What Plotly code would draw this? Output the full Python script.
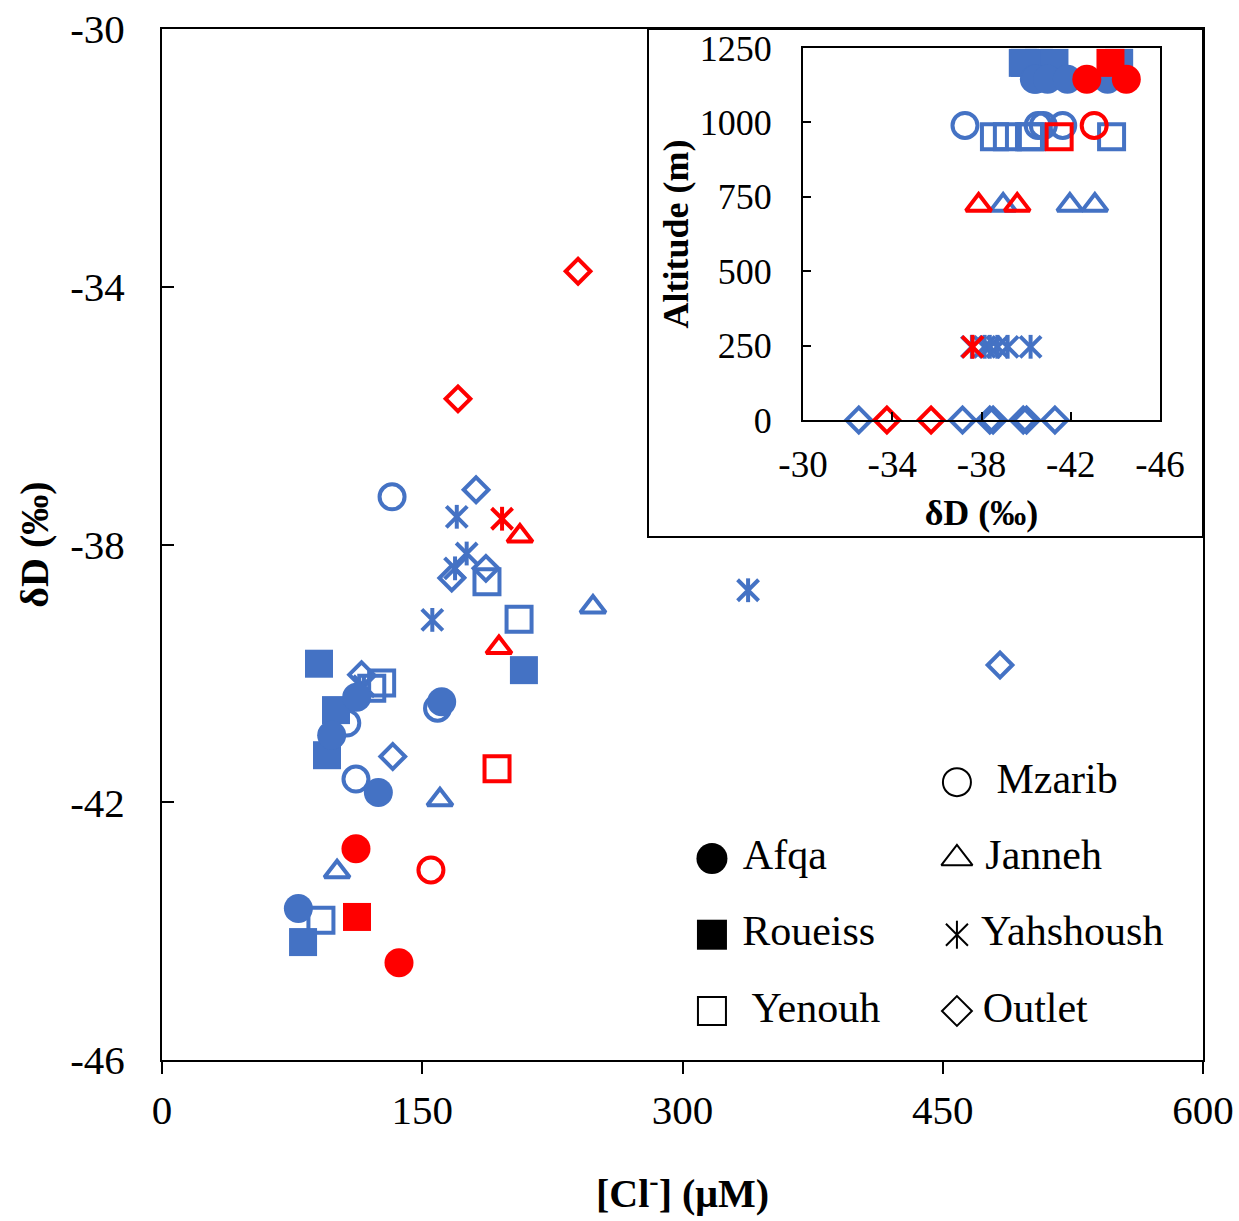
import plotly.graph_objects as go

BLUE = "#4472C4"
RED = "#FF0000"
FONT = "Liberation Serif"

# ---------------- data ----------------
# [Cl-] (µM) and dD (permil) per spring; blue and red sample sets
afqa_blue_cl = [112.2, 161.2, 97.8, 124.7, 78.6]
afqa_blue_dD = [-40.37, -40.44, -40.96, -41.85, -43.65]
afqa_red_cl = [111.8, 136.6]
afqa_red_dD = [-42.72, -44.49]

roueiss_blue_cl = [90.5, 100.3, 95.1, 208.6, 81.3]
roueiss_blue_dD = [-39.85, -40.57, -41.27, -39.95, -44.17]
roueiss_red_cl = [112.4]
roueiss_red_dD = [-43.78]

yenouh_blue_cl = [187.3, 205.8, 126.6, 120.9, 91.6]
yenouh_blue_dD = [-38.58, -39.16, -40.15, -40.23, -43.83]
yenouh_red_cl = [193.1]
yenouh_red_dD = [-41.48]

mzarib_blue_cl = [132.6, 106.5, 158.8, 111.8]
mzarib_blue_dD = [-37.26, -40.77, -40.54, -41.64]
mzarib_red_cl = [155.0]
mzarib_red_dD = [-43.05]

janneh_blue_cl = [248.4, 160.2, 100.9]
janneh_blue_dD = [-38.97, -41.96, -43.08]
janneh_red_cl = [206.3, 194.2]
janneh_red_dD = [-37.87, -39.60]

yahshoush_blue_cl = [169.9, 175.6, 168.9, 155.8, 337.8, 116.4]
yahshoush_blue_dD = [-37.57, -38.14, -38.37, -39.17, -38.71, -40.20]
yahshoush_red_cl = [196.0]
yahshoush_red_dD = [-37.60]

outlet_blue_cl = [181.0, 167.0, 186.7, 133.0, 115.0, 483.0, None]
outlet_blue_dD = [-37.15, -38.52, -38.37, -41.29, -40.02, -39.87, -32.50]
outlet_red_cl = [239.8, 170.6]
outlet_red_dD = [-33.76, -35.74]

# altitude (m) of each spring (inset)
site_altitude = {"Roueiss": 1200, "Afqa": 1145, "Mzarib": 990, "Yenouh": 952,
                 "Janneh": 722, "Yahshoush": 246, "Outlet": 0}

# legend layout (two columns, four rows)
legend_sites = ["Mzarib", "Afqa", "Janneh", "Roueiss", "Yahshoush", "Yenouh", "Outlet"]
legend_cols = ["right", "left", "right", "left", "right", "left", "right"]
legend_rows = ["r1", "r2", "r2", "r3", "r3", "r4", "r4"]
legend_pad = {"Mzarib": 2, "Afqa": 1, "Janneh": 1, "Roueiss": 1, "Yahshoush": 1,
              "Yenouh": 2, "Outlet": 1}

x_ticks = [0, 150, 300, 450, 600]
y_ticks = [-46, -42, -38, -34, -30]
inset_x_ticks = [-30, -34, -38, -42, -46]
inset_y_ticks = [0, 250, 500, 750, 1000, 1250]

# ---------------- styles ----------------
# each site: list of (symbol, size, line width) layers
styles = {
    "Afqa": [("circle", 29, 0)],
    "Roueiss": [("square", 28, 0)],
    "Yenouh": [("square-open", 25, 4)],
    "Mzarib": [("circle-open", 25, 4)],
    "Janneh": [("triangle-up-open", 22, 4)],
    "Yahshoush": [("x-thin-open", 21, 4), ("line-ns-open", 17, 4)],
    "Outlet": [("diamond-open", 19, 4)],
}
legend_styles = {
    "Afqa": [("circle", 31, 0)],
    "Roueiss": [("square", 30, 0)],
    "Yenouh": [("square-open", 28, 2)],
    "Mzarib": [("circle-open", 28, 2)],
    "Janneh": [("triangle-up-open", 27, 2)],
    "Yahshoush": [("x-thin-open", 22, 2), ("line-ns-open", 20, 2)],
    "Outlet": [("diamond-open", 23, 2)],
}

series = {
    "Afqa": {"blue": (afqa_blue_cl, afqa_blue_dD), "red": (afqa_red_cl, afqa_red_dD)},
    "Roueiss": {"blue": (roueiss_blue_cl, roueiss_blue_dD), "red": (roueiss_red_cl, roueiss_red_dD)},
    "Yenouh": {"blue": (yenouh_blue_cl, yenouh_blue_dD), "red": (yenouh_red_cl, yenouh_red_dD)},
    "Mzarib": {"blue": (mzarib_blue_cl, mzarib_blue_dD), "red": (mzarib_red_cl, mzarib_red_dD)},
    "Janneh": {"blue": (janneh_blue_cl, janneh_blue_dD), "red": (janneh_red_cl, janneh_red_dD)},
    "Yahshoush": {"blue": (yahshoush_blue_cl, yahshoush_blue_dD), "red": (yahshoush_red_cl, yahshoush_red_dD)},
    "Outlet": {"blue": (outlet_blue_cl, outlet_blue_dD), "red": (outlet_red_cl, outlet_red_dD)},
}
colors = {"blue": BLUE, "red": RED}


def marker(symbol, size, lw, color):
    filled = not symbol.endswith("-open")
    return dict(symbol=symbol, size=size, color=color,
                line=dict(width=lw, color=color) if not filled else dict(width=0))


fig = go.Figure()

for colname in ["blue", "red"]:
    for site in ["Outlet", "Yahshoush", "Janneh", "Mzarib", "Yenouh", "Roueiss", "Afqa"]:
        cl, dD = series[site][colname]
        for sym, size, lw in styles[site]:
            # main chart: dD vs [Cl-]
            fig.add_trace(go.Scatter(
                x=cl, y=dD, mode="markers", name=f"{site} ({colname})",
                marker=marker(sym, size, lw, colors[colname]),
                showlegend=False, xaxis="x", yaxis="y"))
            # inset: altitude vs dD
            fig.add_trace(go.Scatter(
                x=dD, y=[site_altitude[site]] * len(dD), mode="markers",
                name=f"{site} ({colname})",
                marker=marker(sym, size, lw, colors[colname]),
                showlegend=False, cliponaxis=False, xaxis="x2", yaxis="y2"))

# legend drawn on its own hidden categorical axes
for site, col, row in zip(legend_sites, legend_cols, legend_rows):
    layers = legend_styles[site]
    for i, (sym, size, lw) in enumerate(layers):
        last = i == len(layers) - 1
        tr = dict(x=[col], y=[row], marker=marker(sym, size, lw, "black"),
                  showlegend=False, cliponaxis=False, hoverinfo="skip",
                  xaxis="x3", yaxis="y3")
        if last:
            tr.update(mode="markers+text",
                      text=["\u00a0" * legend_pad[site] + site],
                      textposition="middle right",
                      textfont=dict(family=FONT, size=42, color="black"))
        else:
            tr.update(mode="markers")
        fig.add_trace(go.Scatter(**tr))

# plot-area geometry (pixels) -> paper fractions
PL, PR, PT, PB = 162, 1203, 29, 1060
W, H = PR - PL, PB - PT


def px_x(p):
    return (p - PL) / W


def px_y(p):
    return (PB - p) / H


axis_common = dict(showline=True, linecolor="black", linewidth=2, mirror=True,
                   showgrid=False, zeroline=False, tickcolor="black", tickwidth=2)

fig.update_layout(
    width=1239, height=1221,
    margin=dict(l=PL, r=1239 - PR, t=PT, b=1221 - PB, autoexpand=False),
    paper_bgcolor="white", plot_bgcolor="white",
    font=dict(family=FONT, color="black"),
    showlegend=False,
    xaxis=dict(domain=[0, 1], range=[0, 600], tickvals=x_ticks,
               ticktext=[str(v) for v in x_ticks], ticks="outside", ticklen=12,
               tickfont=dict(size=41), ticklabelstandoff=1,
               title=dict(text="<b>[Cl<sup>-</sup>] (μM)</b>", font=dict(size=40), standoff=47),
               anchor="y", **axis_common),
    yaxis=dict(domain=[0, 1], range=[-46, -30], tickvals=y_ticks,
               ticktext=[str(v) for v in y_ticks], ticks="inside", ticklen=12,
               tickfont=dict(size=41), ticklabelstandoff=27,
               title=dict(text="<b>δD (‰)</b>", font=dict(size=40), standoff=9),
               anchor="x", **axis_common),
    xaxis2=dict(domain=[px_x(803), px_x(1160)], range=[-30, -46], tickvals=inset_x_ticks,
                ticktext=[str(v) for v in inset_x_ticks],
                ticks="inside", ticklen=8, tickfont=dict(size=37), ticklabelstandoff=11,
                title=dict(text="<b>δD (‰)</b>", font=dict(size=36), standoff=15),
                anchor="y2", **axis_common),
    yaxis2=dict(domain=[px_y(420), px_y(48)], range=[0, 1250], tickvals=inset_y_ticks,
                ticktext=[str(v) for v in inset_y_ticks],
                ticks="inside", ticklen=8, tickfont=dict(size=36), ticklabelstandoff=22,
                title=dict(text="<b>Altitude (m)</b>", font=dict(size=36), standoff=0),
                anchor="x2", **axis_common),
    xaxis3=dict(domain=[px_x(600), px_x(1100)], type="category", categoryarray=["left", "right"],
                range=[-0.457, 1.584], visible=False, anchor="y3", fixedrange=True),
    yaxis3=dict(domain=[px_y(1040), px_y(760)], type="category", categoryarray=["r1", "r2", "r3", "r4"],
                range=[3.38, -0.29], visible=False, anchor="x3", fixedrange=True),
    shapes=[dict(type="rect", xref="paper", yref="paper",
                 x0=px_x(648), x1=1.0, y0=px_y(537), y1=1.0,
                 fillcolor="white", line=dict(color="black", width=2), layer="below")],
)

fig.write_html(
    "out.html",
    config={"displayModeBar": False},
    post_script="document.body.style.margin='0';document.body.style.overflow='hidden';",
)
